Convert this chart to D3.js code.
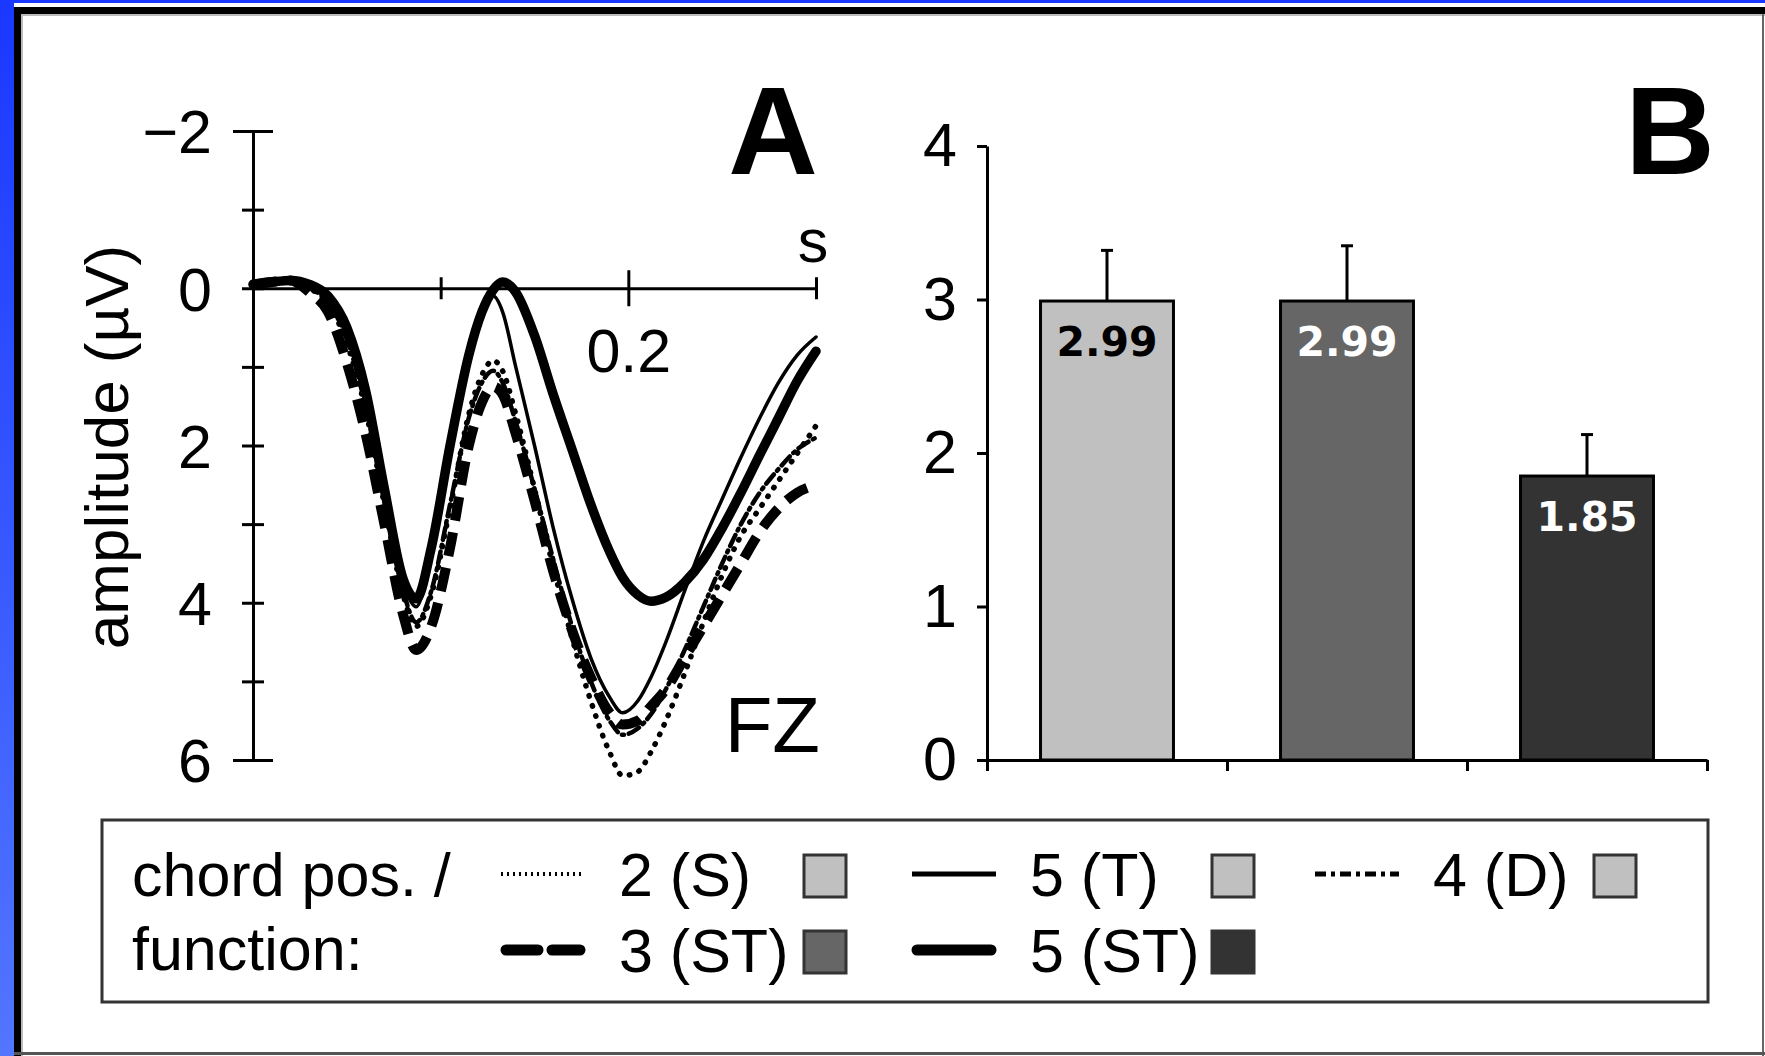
<!DOCTYPE html>
<html>
<head>
<meta charset="utf-8">
<script src="https://cdn.jsdelivr.net/npm/d3@7"></script>
<style>
  body { margin: 0; background: #fff; }
  svg { display: block; }
  text { font-family: "Liberation Sans", Arial, Helvetica, sans-serif; fill: #000; }
</style>
</head>
<body>
<div id="chart"></div>
<script>
// ERP time points (s) and amplitudes (µV) per chord position / function
const times = [0, 0.01, 0.02, 0.03, 0.04, 0.05, 0.06, 0.07, 0.08, 0.087, 0.095, 0.105, 0.115, 0.122, 0.128, 0.133,
  0.14, 0.15, 0.16, 0.17, 0.18, 0.19, 0.197, 0.205, 0.212, 0.22, 0.23, 0.24, 0.25, 0.26, 0.27, 0.28, 0.29, 0.3];
const ampS2 = [-0.05, -0.07, -0.08, 0.0, 0.2, 0.7, 1.55, 2.75, 3.9, 4.3, 3.9, 2.8, 1.6, 1.1, 0.92, 1.05,
  1.6, 2.55, 3.55, 4.45, 5.25, 5.9, 6.2, 6.15, 5.9, 5.5, 4.9, 4.25, 3.65, 3.15, 2.8, 2.45, 2.1, 1.75];
const ampT5 = [-0.05, -0.07, -0.08, -0.03, 0.12, 0.55, 1.35, 2.6, 3.75, 4.05, 3.35, 1.95, 0.75, 0.25, 0.1, 0.3,
  1.0, 2.0, 3.05, 3.95, 4.7, 5.2, 5.4, 5.25, 4.95, 4.5, 3.85, 3.22, 2.68, 2.15, 1.65, 1.2, 0.85, 0.62];
const ampD4 = [-0.05, -0.07, -0.08, 0.0, 0.18, 0.65, 1.5, 2.7, 3.85, 4.25, 3.85, 2.75, 1.65, 1.2, 1.05, 1.2,
  1.7, 2.55, 3.45, 4.3, 5.0, 5.5, 5.68, 5.6, 5.42, 5.1, 4.6, 4.05, 3.5, 3.0, 2.6, 2.3, 2.05, 1.9];
const ampST3 = [-0.05, -0.08, -0.1, 0.05, 0.3, 0.95, 1.85, 3.0, 4.15, 4.6, 4.3, 3.3, 2.0, 1.45, 1.25, 1.35,
  1.85, 2.7, 3.6, 4.35, 4.95, 5.4, 5.55, 5.5, 5.32, 5.1, 4.7, 4.3, 3.9, 3.5, 3.1, 2.8, 2.6, 2.5];
const ampST5 = [-0.05, -0.08, -0.1, -0.05, 0.1, 0.5, 1.3, 2.55, 3.7, 3.95, 3.3, 2.0, 0.85, 0.3, 0.02, -0.08,
  0.05, 0.6, 1.35, 2.05, 2.75, 3.35, 3.68, 3.9, 3.98, 3.93, 3.74, 3.45, 3.05, 2.6, 2.12, 1.65, 1.18, 0.8];

const ampTicks = [-2, -1, 0, 1, 2, 3, 4, 5, 6];
const ampLabels = [-2, 0, 2, 4, 6];
const timeTicks = [0.1, 0.2, 0.3];

// panel B
const barGroups = ["S / T / D", "3 (ST)", "5 (ST)"];
const barValues = [2.99, 2.99, 1.85];
const barErrors = [0.33, 0.36, 0.27];
const barTicks = [0, 1, 2, 3, 4];

// legend
const legendLabels = ["2 (S)", "5 (T)", "4 (D)", "3 (ST)", "5 (ST)"];

const width = 1765, height = 1056;
const font = "\"Liberation Sans\", Arial, Helvetica, sans-serif";
const tickFont = "61px";

const svg = d3.select("#chart").append("svg")
    .attr("width", width)
    .attr("height", height);

// frame: blue slide background, white panel with dark edge
const grad = svg.append("defs").append("linearGradient")
    .attr("id", "blue").attr("x1", 0).attr("y1", 0).attr("x2", 0).attr("y2", 1);
grad.append("stop").attr("offset", "0%").attr("stop-color", "#1a38ff");
grad.append("stop").attr("offset", "100%").attr("stop-color", "#5276ff");
svg.append("rect").attr("width", width).attr("height", height).attr("fill", "url(#blue)");
svg.append("rect").attr("x", 14).attr("y", 3).attr("width", width - 14).attr("height", height - 3).attr("fill", "#fff");
svg.append("rect").attr("x", 14).attr("y", 7).attr("width", width - 14).attr("height", 7).attr("fill", "#000");
svg.append("rect").attr("x", 14).attr("y", 7).attr("width", 7).attr("height", height - 7).attr("fill", "#000");
svg.append("rect").attr("x", 21).attr("y", 14).attr("width", 2).attr("height", height - 14).attr("fill", "#bbb");
svg.append("rect").attr("x", 21).attr("y", 14).attr("width", width - 21).attr("height", 2).attr("fill", "#bbb");
svg.append("rect").attr("x", 1762).attr("y", 14).attr("width", 2).attr("height", height - 14).attr("fill", "#666");
svg.append("rect").attr("x", 14).attr("y", 1052).attr("width", width - 14).attr("height", 3).attr("fill", "#555");

// ---------- panel A ----------
const x = d3.scaleLinear().domain([0, 0.3]).range([253, 816]);
const y = d3.scaleLinear().domain([-2, 6]).range([131, 760]);
const minus = d3.format("");

const gyA = svg.append("g")
    .attr("transform", `translate(${x(0)},0)`)
    .call(d3.axisLeft(y).tickValues(ampTicks).tickSizeOuter(0)
        .tickFormat(d => ampLabels.includes(d) ? minus(d) : ""));
gyA.select(".domain").attr("stroke", "#000").attr("stroke-width", 3);
gyA.selectAll(".tick line")
    .attr("stroke", "#000").attr("stroke-width", 3)
    .attr("x1", d => (d === -2 || d === 6) ? -20 : -11)
    .attr("x2", d => (d === -2 || d === 6) ? 20 : 11);
gyA.selectAll(".tick text")
    .attr("x", -41).attr("dy", "0.36em")
    .style("font-family", font).style("font-size", tickFont).attr("fill", "#000");

const gxA = svg.append("g")
    .attr("transform", `translate(0,${y(0)})`)
    .call(d3.axisBottom(x).tickValues(timeTicks).tickSizeOuter(0)
        .tickFormat(d => d === 0.2 ? "0.2" : ""));
gxA.select(".domain").attr("stroke", "#000").attr("stroke-width", 3);
gxA.selectAll(".tick line")
    .attr("stroke", "#000").attr("stroke-width", 3)
    .attr("y1", d => d === 0.2 ? -18 : -11)
    .attr("y2", d => d === 0.2 ? 18 : 11);
gxA.selectAll(".tick text")
    .attr("y", 84).attr("dy", null)
    .style("font-family", font).style("font-size", tickFont).attr("fill", "#000");

const series = [
    { name: "3 (ST)", values: ampST3, width: 10, dash: "24,12", cap: "butt" },
    { name: "2 (S)", values: ampS2, width: 5.5, dash: "0.5,10", cap: "round" },
    { name: "4 (D)", values: ampD4, width: 4.5, dash: "12,5,2,5", cap: "round" },
    { name: "5 (T)", values: ampT5, width: 3.5, dash: null, cap: "round" },
    { name: "5 (ST)", values: ampST5, width: 9.5, dash: null, cap: "round" }
];

const line = d3.line()
    .x((d, i) => x(times[i]))
    .y(d => y(d))
    .curve(d3.curveMonotoneX);

svg.append("g").selectAll("path")
    .data(series)
    .join("path")
    .attr("d", d => line(d.values))
    .attr("fill", "none")
    .attr("stroke", "#000")
    .attr("stroke-width", d => d.width)
    .attr("stroke-dasharray", d => d.dash)
    .attr("stroke-linecap", d => d.cap)
    .attr("stroke-linejoin", "round");

svg.append("text")
    .attr("transform", "translate(128,447) rotate(-90)")
    .attr("text-anchor", "middle")
    .style("font-size", "62px")
    .text("amplitude (µV)");

svg.append("text").attr("x", 813).attr("y", 262).attr("text-anchor", "middle")
    .style("font-size", tickFont).text("s");
svg.append("text").attr("x", 820).attr("y", 752).attr("text-anchor", "end")
    .style("font-size", "78px").text("FZ");
svg.append("text").attr("x", 773).attr("y", 174).attr("text-anchor", "middle")
    .style("font-size", "124px").style("font-weight", "bold").text("A");

// ---------- panel B ----------
const xb = d3.scaleBand().domain(barGroups).range([987, 1707])
    .paddingInner(0.446).paddingOuter(0.223);
const yb = d3.scaleLinear().domain([0, 4]).range([760, 146]);
const barFill = ["#c0c0c0", "#666666", "#333333"];
const labelFill = ["#000", "#fff", "#fff"];

const gyB = svg.append("g")
    .attr("transform", `translate(987,0)`)
    .call(d3.axisLeft(yb).tickValues(barTicks).tickFormat(d3.format("d"))
        .tickSize(10).tickSizeOuter(0).tickPadding(20));
gyB.select(".domain").attr("stroke", "#000").attr("stroke-width", 3);
gyB.selectAll(".tick line").attr("stroke", "#000").attr("stroke-width", 3);
gyB.selectAll(".tick text")
    .style("font-family", font).style("font-size", tickFont).attr("fill", "#000");

const xbEdge = d3.scaleLinear().domain([0, barGroups.length]).range([987, 1707]);
const gxB = svg.append("g")
    .attr("transform", `translate(0,${yb(0)})`)
    .call(d3.axisBottom(xbEdge).tickValues(d3.range(barGroups.length + 1))
        .tickFormat("").tickSize(11).tickSizeOuter(0));
gxB.select(".domain").attr("stroke", "#000").attr("stroke-width", 3);
gxB.selectAll(".tick line").attr("stroke", "#000").attr("stroke-width", 3);

const bars = svg.append("g").selectAll("g")
    .data(barGroups)
    .join("g");

bars.append("line")
    .attr("x1", d => xb(d) + xb.bandwidth() / 2)
    .attr("x2", d => xb(d) + xb.bandwidth() / 2)
    .attr("y1", (d, i) => yb(barValues[i]))
    .attr("y2", (d, i) => yb(barValues[i] + barErrors[i]))
    .attr("stroke", "#000").attr("stroke-width", 3);
bars.append("line")
    .attr("x1", d => xb(d) + xb.bandwidth() / 2 - 6)
    .attr("x2", d => xb(d) + xb.bandwidth() / 2 + 6)
    .attr("y1", (d, i) => yb(barValues[i] + barErrors[i]))
    .attr("y2", (d, i) => yb(barValues[i] + barErrors[i]))
    .attr("stroke", "#000").attr("stroke-width", 3);

bars.append("rect")
    .attr("x", d => xb(d))
    .attr("width", xb.bandwidth())
    .attr("y", (d, i) => yb(barValues[i]))
    .attr("height", (d, i) => yb(0) - yb(barValues[i]))
    .attr("fill", (d, i) => barFill[i])
    .attr("stroke", "#000")
    .attr("stroke-width", 3);

bars.append("text")
    .attr("x", d => xb(d) + xb.bandwidth() / 2)
    .attr("y", (d, i) => yb(barValues[i]) + 55)
    .attr("text-anchor", "middle")
    .style("font-family", "\"DejaVu Sans\", sans-serif")
    .style("font-weight", "bold")
    .style("font-size", "41px")
    .style("fill", (d, i) => labelFill[i])
    .text((d, i) => barValues[i].toFixed(2));

svg.append("text").attr("x", 1670).attr("y", 174).attr("text-anchor", "middle")
    .style("font-size", "124px").style("font-weight", "bold").text("B");

// ---------- legend ----------
svg.append("rect")
    .attr("x", 102).attr("y", 820).attr("width", 1606).attr("height", 182)
    .attr("fill", "none").attr("stroke", "#333").attr("stroke-width", 3);

svg.append("text").attr("x", 132).attr("y", 896).style("font-size", "61px").text("chord pos. /");
svg.append("text").attr("x", 132).attr("y", 970).style("font-size", "61px").text("function:");

const legendItems = [
    { label: legendLabels[0], col: 0, row: 0, width: 4, dash: "2,4", cap: "butt", fill: "#c0c0c0" },
    { label: legendLabels[1], col: 1, row: 0, width: 5, dash: null, cap: "butt", fill: "#c0c0c0" },
    { label: legendLabels[2], col: 2, row: 0, width: 5, dash: "11,5,4,5", cap: "butt", fill: "#c0c0c0" },
    { label: legendLabels[3], col: 0, row: 1, width: 11, dash: "32,14", cap: "round", fill: "#666666" },
    { label: legendLabels[4], col: 1, row: 1, width: 11, dash: null, cap: "round", fill: "#333333" }
];
const colX = [501, 912, 1315];
const squareX = [804, 1212, 1594];
const rowY = [874, 950];

const li = svg.append("g").selectAll("g")
    .data(legendItems)
    .join("g");

li.append("line")
    .attr("x1", d => colX[d.col] + (d.cap === "round" ? 5 : 0))
    .attr("x2", d => colX[d.col] + 84 - (d.cap === "round" ? 5 : 0))
    .attr("y1", d => rowY[d.row])
    .attr("y2", d => rowY[d.row])
    .attr("stroke", "#000")
    .attr("stroke-width", d => d.width)
    .attr("stroke-dasharray", d => d.dash)
    .attr("stroke-linecap", d => d.cap);

li.append("text")
    .attr("x", d => colX[d.col] + 118)
    .attr("y", d => rowY[d.row] + 22)
    .style("font-size", "61px")
    .text(d => d.label);

li.append("rect")
    .attr("x", d => squareX[d.col])
    .attr("y", d => rowY[d.row] - 19)
    .attr("width", 42)
    .attr("height", 42)
    .attr("fill", d => d.fill)
    .attr("stroke", "#333")
    .attr("stroke-width", 3);
</script>
</body>
</html>
